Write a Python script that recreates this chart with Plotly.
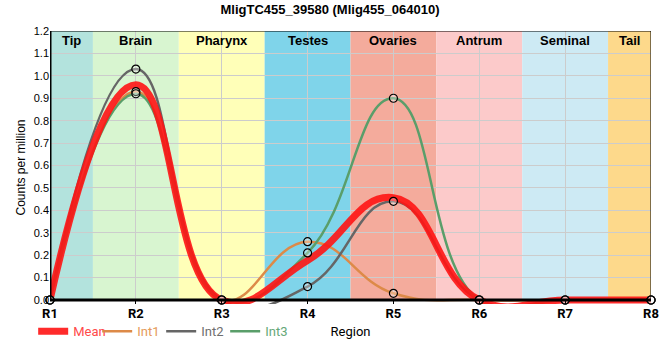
import plotly.graph_objects as go

# ---- data ----
regions = ["R1", "R2", "R3", "R4", "R5", "R6", "R7", "R8"]
int1 = [0.0, 0.93, 0.0, 0.26, 0.03, 0.0, 0.0, 0.0]
int2 = [0.0, 1.03, 0.0, 0.06, 0.44, 0.0, 0.0, 0.0]
int3 = [0.0, 0.92, 0.0, 0.21, 0.90, 0.0, 0.0, 0.0]
mean = [round((a + b + c) / 3, 4) for a, b, c in zip(int1, int2, int3)]

band_names = ["Tip", "Brain", "Pharynx", "Testes", "Ovaries", "Antrum", "Seminal", "Tail"]
band_edges = [0, 0.5, 1.5, 2.5, 3.5, 4.5, 5.5, 6.5, 7]
band_colors = ["#b3e3dd", "#d8f5d0", "#ffffb8", "#7fd4ea", "#f4ab9c", "#fccaca", "#cdeaf4", "#fdd98b"]

series_names = ["Int1", "Int2", "Int3"]
series_vals = [int1, int2, int3]
series_colors = ["#dd8a48", "#666666", "#5a9e6a"]
legend_text_colors = ["#e59a5a", "#6e6e6e", "#66a878"]

title = "MligTC455_39580 (Mlig455_064010)"
y_min, y_max = 0.0, 1.2

fig = go.Figure()

# Int lines (legend entries, no markers)
for rank, (name, vals, col, tcol) in enumerate(zip(series_names, series_vals, series_colors, legend_text_colors)):
    fig.add_trace(go.Scatter(x=regions, y=vals, mode="lines",
                             name="<span style='color:%s'>%s</span>" % (tcol, name),
                             line=dict(color=col, width=2.5, shape="spline", smoothing=1.3),
                             legendrank=rank + 2))

# Mean line
fig.add_trace(go.Scatter(x=regions, y=mean, mode="lines",
                         name="<span style='color:#ff4a4a'>Mean</span>",
                         line=dict(color="rgba(255,20,20,0.9)", width=7, shape="spline", smoothing=1.3),
                         legendrank=1))

# Int markers on top
for name, vals in zip(series_names, series_vals):
    fig.add_trace(go.Scatter(x=regions, y=vals, mode="markers", showlegend=False,
                             marker=dict(symbol="circle", size=8, color="rgba(255,255,255,0.3)",
                                         line=dict(color="black", width=1.2)),
                             cliponaxis=False, hoverinfo="skip"))

shapes = []
annotations = []
for i, name in enumerate(band_names):
    x0, x1 = band_edges[i], band_edges[i + 1]
    shapes.append(dict(type="rect", xref="x", yref="y", x0=x0, x1=x1, y0=y_min, y1=y_max,
                       fillcolor=band_colors[i], line=dict(width=0), layer="below"))
    annotations.append(dict(x=(x0 + x1) / 2, y=y_max, xref="x", yref="y", yanchor="middle", yshift=-9,
                            text="<b>%s</b>" % name, showarrow=False,
                            font=dict(family="Liberation Sans, Arial", size=13, color="black")))
# frame
shapes.append(dict(type="rect", xref="x", yref="y", x0=band_edges[0], x1=band_edges[-1], y0=y_min, y1=y_max,
                   line=dict(color="black", width=1), layer="above"))
shapes.append(dict(type="line", xref="x", yref="y", x0=band_edges[0], x1=band_edges[0], y0=y_min, y1=y_max,
                   line=dict(color="black", width=3), layer="above"))
shapes.append(dict(type="line", xref="x", yref="y", x0=band_edges[0], x1=band_edges[-1], y0=y_min, y1=y_min,
                   line=dict(color="black", width=3), layer="above"))

fig.update_layout(
    width=660, height=360,
    margin=dict(l=50, r=9, t=31, b=56),
    paper_bgcolor="white", plot_bgcolor="white",
    title=dict(text="<b>%s</b>" % title, x=0.5, xanchor="center", y=0.975, yanchor="middle",
               yref="container", font=dict(family="Liberation Sans, Arial", size=13, color="black")),
    shapes=shapes, annotations=annotations,
    showlegend=True,
    legend=dict(orientation="h", x=-0.028, xanchor="left", y=-0.1, yanchor="middle",
                font=dict(family="Roboto", size=13), entrywidth=19, itemwidth=30,
                bgcolor="rgba(0,0,0,0)", traceorder="normal"),
    xaxis=dict(type="category", categoryorder="array", categoryarray=regions,
               range=[0, 7], showgrid=True, gridcolor="#cccccc", gridwidth=1,
               showline=False, automargin=False,
               ticks="inside", ticklen=4, tickcolor="black", tickwidth=1,
               tickfont=dict(family="Roboto", size=13, color="black", weight="bold"),
               title=dict(text="Region", font=dict(family="Roboto", size=13, color="black"), standoff=6),
               zeroline=False, fixedrange=True),
    yaxis=dict(range=[-0.0178, y_max], tickvals=[i / 10 for i in range(13)], tickformat=".1f",
               showgrid=True, gridcolor="#cccccc", gridwidth=1, showline=False, zeroline=False,
               automargin=False,
               tickfont=dict(family="Liberation Sans, Arial", size=11, color="black"),
               title=dict(text="Counts per million",
                          font=dict(family="Liberation Sans, Arial", size=12, color="black"), standoff=5),
               fixedrange=True),
)

fig.write_html("out.html", config={"displayModeBar": False},
               post_script="document.body.style.margin='0';")
